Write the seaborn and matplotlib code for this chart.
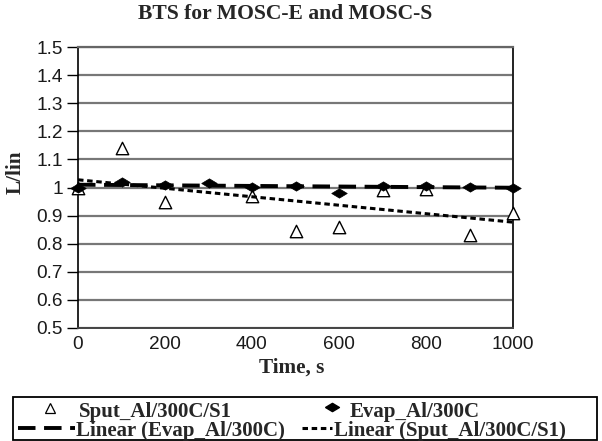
import matplotlib
matplotlib.use("Agg")
import matplotlib.pyplot as plt
import seaborn as sns
import pandas as pd
import numpy as np
from matplotlib.lines import Line2D
from matplotlib.patches import Rectangle

sput_x = [0, 100, 200, 400, 500, 600, 700, 800, 900, 1000]
sput_y = [1.0, 1.142, 0.95, 0.97, 0.845, 0.858, 0.99, 0.995, 0.83, 0.91]
evap_x = [0, 100, 200, 300, 400, 500, 600, 700, 800, 900, 1000]
evap_y = [0.997, 1.02, 1.01, 1.017, 1.003, 1.007, 0.982, 1.007, 1.007, 1.003, 0.997]
x_ticks = [0, 200, 400, 600, 800, 1000]
y_ticks = [0.5, 0.6, 0.7, 0.8, 0.9, 1.0, 1.1, 1.2, 1.3, 1.4, 1.5]
y_tick_labels = ["0.5", "0.6", "0.7", "0.8", "0.9", "1", "1.1", "1.2", "1.3", "1.4", "1.5"]
legend_labels = ["Sput_Al/300C/S1", "Evap_Al/300C",
                 "Linear (Evap_Al/300C)", "Linear (Sput_Al/300C/S1)"]

sput = pd.DataFrame({"x": sput_x, "y": sput_y})
evap = pd.DataFrame({"x": evap_x, "y": evap_y})

sns.set_style("white")
plt.rcParams["font.family"] = ["Liberation Sans", "DejaVu Sans"]

W, H = 602, 441
fig = plt.figure(figsize=(W / 100, H / 100), dpi=100)
ax = fig.add_axes([78 / W, (H - 328) / H, (513 - 78) / W, (328 - 47) / H])

diamond = [(-1, 0), (0, 0.6), (1, 0), (0, -0.6), (-1, 0)]
evap_dash = (0, (4.5, 2.2))
sput_dot = (0, (1.8, 1.2))

sns.scatterplot(data=sput, x="x", y="y", ax=ax, marker="^", s=80,
                facecolor="white", edgecolor="black", linewidth=1.0, zorder=3,
                clip_on=False)
sns.scatterplot(data=evap, x="x", y="y", ax=ax, marker=diamond, s=125,
                color="black", edgecolor="black", linewidth=0.5, zorder=4,
                clip_on=False)
sns.regplot(data=evap, x="x", y="y", ax=ax, scatter=False, ci=None, truncate=True,
            line_kws=dict(color="black", lw=2.8, linestyle=evap_dash))
sns.regplot(data=sput, x="x", y="y", ax=ax, scatter=False, ci=None, truncate=True,
            line_kws=dict(color="black", lw=2.2, linestyle=sput_dot))
for l in ax.lines:
    l.set_zorder(5)

ax.set_xlim(0, 1000)
ax.set_ylim(0.5, 1.5)
ax.set_xticks(x_ticks)
ax.set_yticks(y_ticks)
ax.set_yticklabels(y_tick_labels)
ax.tick_params(axis="y", which="major", direction="out", length=8, width=1.0,
               color="black", labelsize=13.7, pad=3, left=True)
ax.tick_params(axis="x", length=0, labelsize=13.7, pad=6)
for lab in ax.get_xticklabels() + ax.get_yticklabels():
    lab.set_color("#1a1a1a")

ax.grid(axis="y", color="#777777", lw=1.6)
ax.set_axisbelow(True)
ax.spines["left"].set_color("black")
ax.spines["left"].set_linewidth(1.2)
ax.spines["right"].set_color("#222222")
ax.spines["right"].set_linewidth(1.4)
ax.spines["bottom"].set_color("#444444")
ax.spines["bottom"].set_linewidth(1.4)
ax.spines["top"].set_color("#666666")
ax.spines["top"].set_linewidth(1.6)

serif = ["Liberation Serif", "DejaVu Serif"]
ax.set_xlabel("Time, s", fontfamily=serif, fontweight="bold", fontsize=15.3)
ax.xaxis.set_label_coords((292 - 78) / 435, (328 - 373) / 281)
ax.xaxis.label.set_va("baseline")
ax.set_ylabel("L/lin", fontfamily=serif, fontweight="bold", fontsize=15.3)
ax.yaxis.set_label_coords((16 - 78) / 435, (328 - 172) / 281)
ax.yaxis.label.set_va("center")
fig.text(285 / W, 1 - 14 / H, "BTS for MOSC-E and MOSC-S", ha="center", va="center",
         fontfamily=serif, fontweight="bold", fontsize=15.6)

# legend box (Excel-style flowing layout)
def fx(px):
    return px / W

def fy(py):
    return 1 - py / H

fig.add_artist(Rectangle((fx(13), fy(440)), fx(597) - fx(13), fy(397) - fy(440),
                         transform=fig.transFigure, facecolor="white",
                         edgecolor="black", lw=1.3, zorder=1))
fig.add_artist(Line2D([fx(50)], [fy(408)], marker="^", color="black",
                      markerfacecolor="white", linestyle="none", markersize=7.5,
                      markeredgewidth=0.9, transform=fig.transFigure))
fig.add_artist(Line2D([fx(332)], [fy(407)], marker=diamond, color="black",
                      linestyle="none", markersize=10, transform=fig.transFigure))
fig.add_artist(Line2D([fx(18), fx(75)], [fy(428), fy(428)], color="black", lw=2.8,
                      linestyle=evap_dash, transform=fig.transFigure))
fig.add_artist(Line2D([fx(302), fx(332)], [fy(428), fy(428)], color="black", lw=2.2,
                      linestyle=sput_dot, transform=fig.transFigure))
lp = dict(fontfamily=serif, fontweight="bold", fontsize=15, va="baseline", ha="left")
fig.text(fx(79), fy(417), legend_labels[0], **lp)
fig.text(fx(350), fy(417), legend_labels[1], **lp)
fig.text(fx(76), fy(436), legend_labels[2], **lp)
fig.text(fx(334), fy(436), legend_labels[3], **lp)

fig.savefig("out.png", dpi=100)
